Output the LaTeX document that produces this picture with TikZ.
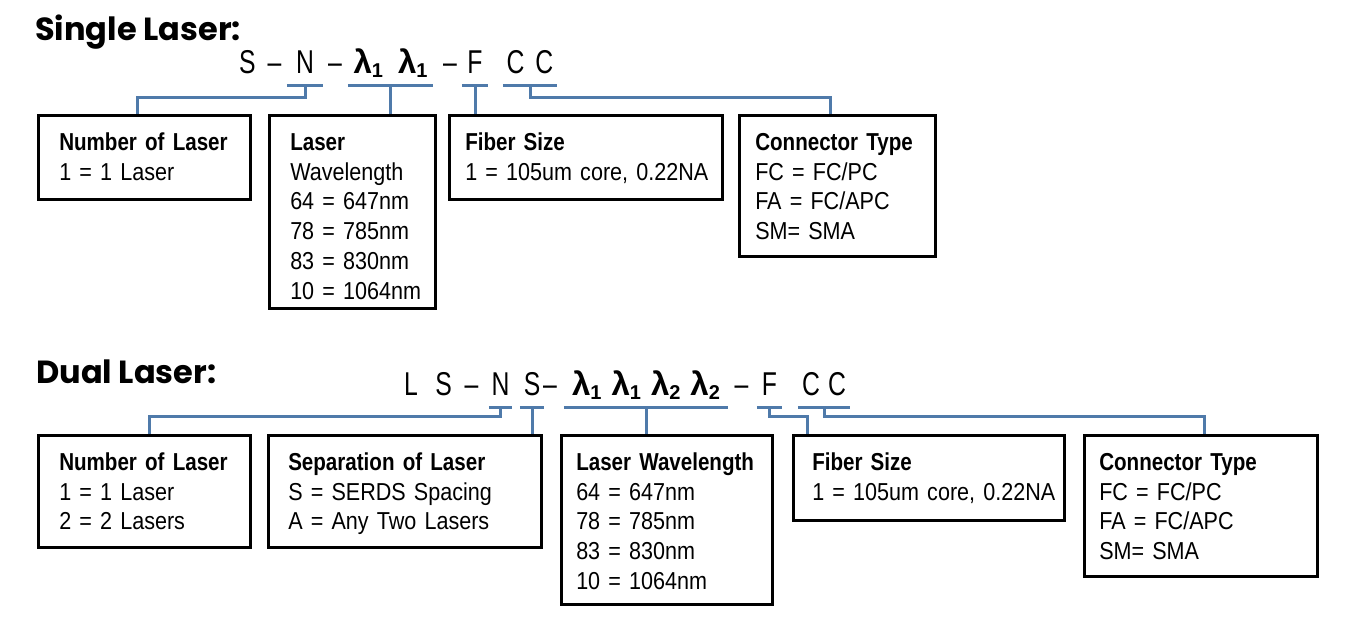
\documentclass[tikz,border=0pt]{standalone}
\usepackage{fontspec}
\setmainfont{Liberation Sans}[FakeStretch=0.88]
\newfontfamily\headfont{Liberation Sans}[FakeStretch=0.84]
\newfontfamily\codefont{Liberation Sans}[FakeStretch=0.75]
\newfontfamily\lamfont{Liberation Sans}
\newfontfamily\titlefont{Poppins}
\definecolor{linkblue}{RGB}{79,122,170}
\newcommand{\hd}[1]{{\headfont\bfseries #1}}
\newcommand{\lam}[1]{{\lamfont\bfseries λ}\raisebox{-4pt}{\lamfont\bfseries\fontsize{20}{20}\selectfont #1}}

\begin{document}
\begin{tikzpicture}[x=1pt,y=-1pt,
  box/.style={draw,line width=2.5pt,anchor=north west,inner sep=0pt,align=left,
    font=\fontsize{24.5}{29.75}\selectfont,text height=35pt,
    execute at begin node={\leftskip=#1}},
  box/.default=21pt,
  link/.style={draw,linkblue,line width=3pt},
  code/.style={anchor=base,inner xsep=0pt,inner ysep=12.5pt,text depth=0pt,
    font=\codefont\fontsize{33}{33}\selectfont},
  title/.style={anchor=base west,inner sep=0pt,
    font=\titlefont\bfseries\fontsize{32}{32}\selectfont}]
\useasboundingbox (0,0) rectangle (1349,633);

% single laser
\node[title] (tSingle) at (35,40) {Single Laser:};

\node[code] (s1) at (247.5,73) {S};
\node[code] (sd1) at (274.5,73) {–};
\node[code,minimum width=36pt] (sN) at (305,73) {N};
\node[code] (sd2) at (335,73) {–};
\node[code,minimum width=85pt] (sLam) at (390.5,73) {\lam1\hspace{15pt}\lam1};
\node[code] (sd3) at (450,73) {–};
\node[code,minimum width=26pt] (sF) at (475,73) {F};
\node[code,minimum width=54pt] (sC) at (530,73) {C\hspace{11pt}C};

\node[box,text width=212pt,text depth=49pt] (numS) at (37,114)
  {\hd{Number of Laser}\\1 = 1 Laser};
\node[box,text width=166pt,text depth=158pt] (lasS) at (268,114)
  {\hd{Laser}\\Wavelength\\64 = 647nm\\78 = 785nm\\83 = 830nm\\10 = 1064nm};
\node[box=16pt,text width=273pt,text depth=49pt] (fibS) at (448,114)
  {\hd{Fiber Size}\\1 = 105um core,~0.22NA};
\node[box=16pt,text width=196pt,text depth=106pt] (conS) at (738,114)
  {\hd{Connector Type}\\FC = FC/PC\\FA = FC/APC\\SM= SMA};

\path[link] (sN.south west) -- (sN.south east);
\path[link] (sLam.south west) -- (sLam.south east);
\path[link] (sF.south west) -- (sF.south east);
\path[link] (sC.south west) -- (sC.south east);

\path[link] (sN.south) -- ++(0,12) -| ([xshift=-7pt]numS.north);
\path[link] (sLam.south) -- (sLam.south |- lasS.north);
\path[link] (sF.south) -- (sF.south |- fibS.north);
\path[link] (sC.south) -- ++(0,12) -| ([xshift=-7pt]conS.north);

% dual laser
\node[title] (tDual) at (36,383) {Dual Laser:};

\node[code] (dL) at (411,395) {L};
\node[code] (dS) at (443.5,395) {S};
\node[code] (dd1) at (471.5,395) {–};
\node[code,minimum width=23pt] (dN) at (500.5,395) {N};
\node[code,minimum width=24pt] (dSep) at (532,395) {S};
\node[code] (dd2) at (550,395) {–};
\node[code,minimum width=164pt] (dLam) at (646,395)
  {\lam1\hspace{10pt}\lam1\hspace{10pt}\lam2\hspace{10pt}\lam2};
\node[code] (dd3) at (741.5,395) {–};
\node[code,minimum width=25pt] (dF) at (769.5,395) {F};
\node[code,minimum width=52pt] (dC) at (824,395) {C\hspace{8pt}C};

\node[box,text width=212pt,text depth=77pt] (numD) at (37,434)
  {\hd{Number of Laser}\\1 = 1 Laser\\2 = 2 Lasers};
\node[box=20pt,text width=273pt,text depth=77pt] (sepD) at (267,434)
  {\hd{Separation of Laser}\\S = SERDS Spacing\\A = Any Two Lasers};
\node[box=15pt,text width=211pt,text depth=134pt] (lasD) at (560,434)
  {\hd{Laser Wavelength}\\64 = 647nm\\78 = 785nm\\83 = 830nm\\10 = 1064nm};
\node[box=19pt,text width=271pt,text depth=50pt] (fibD) at (792,434)
  {\hd{Fiber Size}\\1 = 105um core,~0.22NA};
\node[box=15pt,text width=233pt,text depth=106pt] (conD) at (1083,434)
  {\hd{Connector Type}\\FC = FC/PC\\FA = FC/APC\\SM= SMA};

\path[link] (dN.south west) -- (dN.south east);
\path[link] (dSep.south west) -- (dSep.south east);
\path[link] (dLam.south west) -- (dLam.south east);
\path[link] (dF.south west) -- (dF.south east);
\path[link] (dC.south west) -- (dC.south east);

\path[link] (dN.south) -- ++(0,9) -| ([xshift=5pt]numD.north);
\path[link] (dSep.south) -- (dSep.south |- sepD.north);
\path[link] (dLam.south) -- (dLam.south |- lasD.north);
\path[link] (dF.south) -- ++(0,9) -| ([xshift=15pt]fibD.north west);
\path[link] (dC.south) -- ++(0,9) -| ([xshift=3.5pt]conD.north);
\end{tikzpicture}
\end{document}
